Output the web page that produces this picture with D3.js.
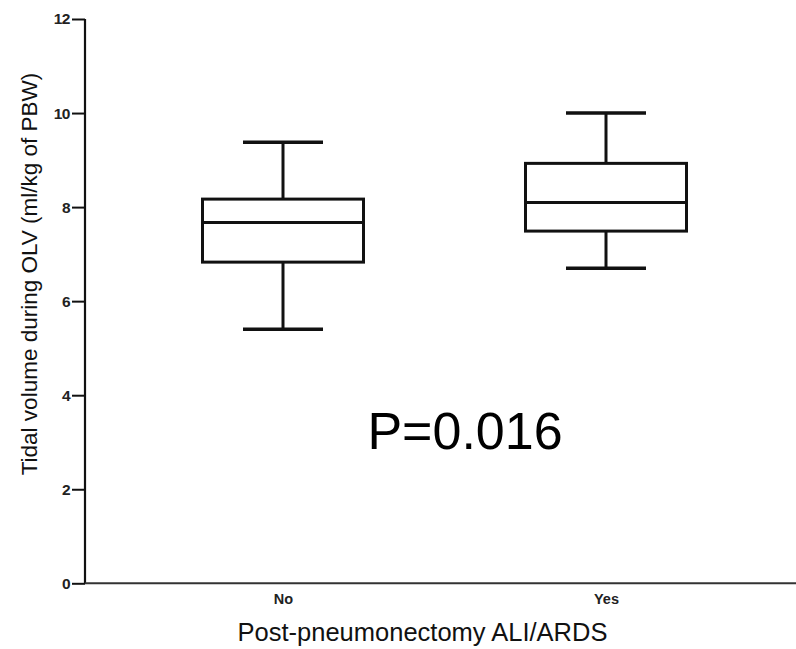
<!DOCTYPE html>
<html>
<head>
<meta charset="utf-8">
<script src="https://cdn.jsdelivr.net/npm/d3@7"></script>
<style>
  html, body { margin: 0; padding: 0; background: #fff; }
  svg { display: block; }
</style>
</head>
<body>
<svg id="chart" width="796" height="649"></svg>
<script>
// ---- data ----
const categories = ["No", "Yes"];
const whiskerLow  = [5.4, 6.7];
const q1          = [6.83, 7.49];
const medians     = [7.67, 8.1];
const q3          = [8.17, 8.93];
const whiskerHigh = [9.38, 10.0];
const yTicks      = [0, 2, 4, 6, 8, 10, 12];
const annotation  = "P=0.016";
const xTitle      = "Post-pneumonectomy ALI/ARDS";
const yTitle      = "Tidal volume during OLV (ml/kg of PBW)";

// ---- layout ----
const svg = d3.select("#chart");
const axisX = 85, yTop = 19, yBottom = 583.3;

const y = d3.scaleLinear().domain([0, 12]).range([yBottom, yTop]);
const x = d3.scalePoint().domain(categories).range([121.5, 767.5]).padding(0.5);

const boxW = 161, capW = 80;
const ink = "#111";
const font = "Liberation Sans, Arial, sans-serif";

// y axis
const yAxis = d3.axisLeft(y).tickValues(yTicks).tickSize(13).tickPadding(2).tickFormat(d3.format("d"));
const gy = svg.append("g").attr("transform", `translate(${axisX},0)`).call(yAxis);
gy.select(".domain").attr("stroke", ink).attr("stroke-width", 2.2).attr("d", `M0,${yTop}V${yBottom}`);
gy.selectAll(".tick line").attr("stroke", ink).attr("stroke-width", 2);
gy.selectAll(".tick text")
  .attr("font-family", font).attr("font-size", 15.5).attr("font-weight", "bold")
  .attr("fill", "#222").attr("letter-spacing", -0.5);

// x axis
const xAxis = d3.axisBottom(x).tickSize(0).tickPadding(10);
const gx = svg.append("g").attr("transform", `translate(0,${yBottom})`).call(xAxis);
gx.select(".domain").attr("stroke", "#333").attr("stroke-width", 2).attr("d", `M${axisX},0H796`);
gx.selectAll(".tick text")
  .attr("font-family", font).attr("font-size", 14.5).attr("font-weight", "bold")
  .attr("fill", "#222");

// boxes
const data = categories.map((c, i) => ({
  c, lo: whiskerLow[i], q1: q1[i], med: medians[i], q3: q3[i], hi: whiskerHigh[i]
}));

const g = svg.append("g").attr("stroke", ink).attr("stroke-width", 3).attr("fill", "none");
const box = g.selectAll("g.box").data(data).join("g").attr("class", "box");

// whiskers
box.append("line").attr("x1", d => x(d.c)).attr("x2", d => x(d.c))
  .attr("y1", d => y(d.q3)).attr("y2", d => y(d.hi));
box.append("line").attr("x1", d => x(d.c)).attr("x2", d => x(d.c))
  .attr("y1", d => y(d.q1)).attr("y2", d => y(d.lo));
// caps
box.append("line").attr("x1", d => x(d.c) - capW / 2).attr("x2", d => x(d.c) + capW / 2)
  .attr("y1", d => y(d.hi)).attr("y2", d => y(d.hi)).attr("stroke-width", 3.5);
box.append("line").attr("x1", d => x(d.c) - capW / 2).attr("x2", d => x(d.c) + capW / 2)
  .attr("y1", d => y(d.lo)).attr("y2", d => y(d.lo)).attr("stroke-width", 3.5);
// box
box.append("rect").attr("x", d => x(d.c) - boxW / 2).attr("width", boxW)
  .attr("y", d => y(d.q3)).attr("height", d => y(d.q1) - y(d.q3)).attr("fill", "#fff");
// median
box.append("line").attr("x1", d => x(d.c) - boxW / 2).attr("x2", d => x(d.c) + boxW / 2)
  .attr("y1", d => y(d.med)).attr("y2", d => y(d.med));

// annotation
svg.append("text").attr("x", 465).attr("y", 449).attr("text-anchor", "middle")
  .attr("font-family", font).attr("font-size", 52)
  .attr("fill", "#000").text(annotation);

// axis titles
svg.append("text").attr("x", 422.5).attr("y", 641).attr("text-anchor", "middle")
  .attr("font-family", font).attr("font-size", 25.5)
  .attr("fill", "#111").text(xTitle);

svg.append("text").attr("transform", `translate(37,274) rotate(-90)`).attr("text-anchor", "middle")
  .attr("font-family", font).attr("font-size", 22.5)
  .attr("fill", "#111").text(yTitle);
</script>
</body>
</html>
